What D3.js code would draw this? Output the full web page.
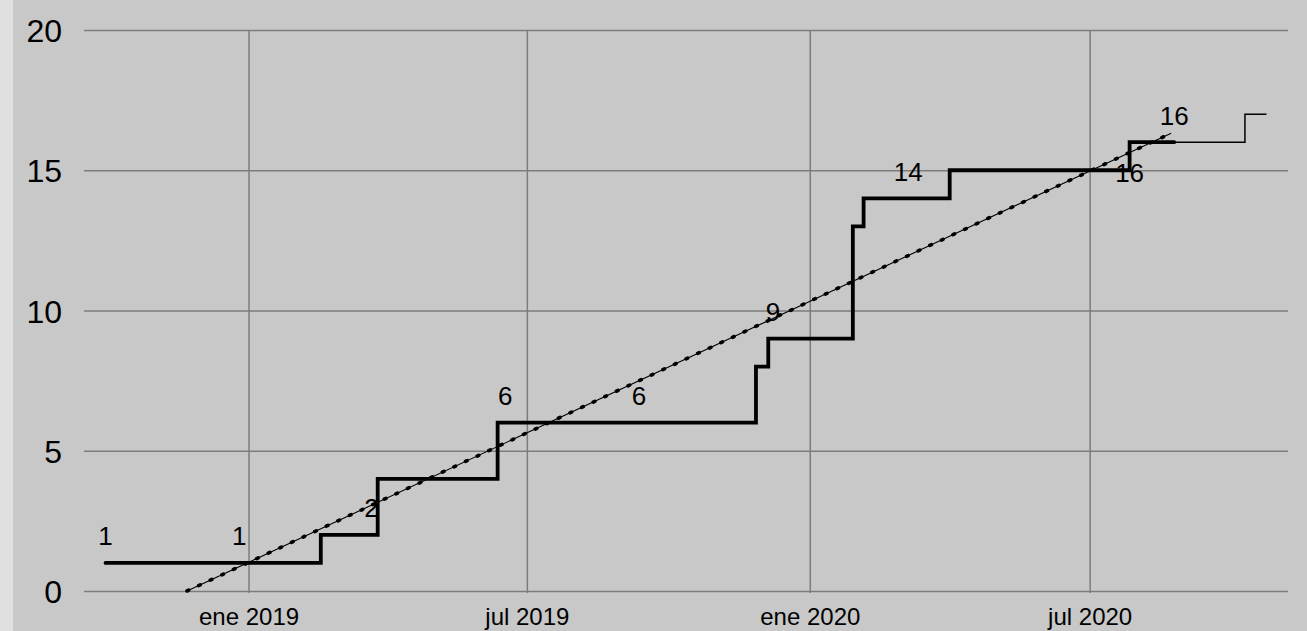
<!DOCTYPE html>
<html>
<head>
<meta charset="utf-8">
<script src="https://cdn.jsdelivr.net/npm/d3@7"></script>
<style>
  html, body { margin: 0; padding: 0; background: #c8c8c8; }
  svg { display: block; }
  text { font-family: "Liberation Sans", Arial, sans-serif; fill: #000; }
</style>
</head>
<body>
<script>
// ---- data ----
const xTickDates  = ["2019-01-01", "2019-07-01", "2020-01-01", "2020-07-01"];
const xTickLabels = ["ene 2019", "jul 2019", "ene 2020", "jul 2020"];
const yTicks      = [0, 5, 10, 15, 20];

// cumulative count (thick step line)
const stepDates  = ["2018-09-30", "2019-02-17", "2019-03-26", "2019-06-12", "2019-11-27",
                    "2019-12-05", "2020-01-29", "2020-02-05", "2020-04-01", "2020-07-27", "2020-08-25"];
const stepValues = [1, 2, 4, 6, 8, 9, 13, 14, 15, 16, 16];

// continuation (thin step line)
const extDates  = ["2020-08-25", "2020-10-10", "2020-10-24"];
const extValues = [16, 17, 17];

// linear trend (end points)
const trendDates  = ["2018-11-22", "2020-08-23"];
const trendValues = [0, 16.32];

// data labels
const labelDates  = ["2018-09-30", "2018-12-26", "2019-03-22", "2019-06-17", "2019-09-12",
                     "2019-12-08", "2020-03-05", "2020-07-27", "2020-08-25"];
const labelValues = [1, 1, 2, 6, 6, 9, 14, 15, 16];
const labelTexts  = ["1", "1", "2", "6", "6", "9", "14", "16", "16"];

const xDomain = ["2018-09-16", "2020-11-07"];
const yDomain = [0, 20];

// ---- drawing ----
(function () {
const W = 1307, H = 631;
const parse = d3.utcParse("%Y-%m-%d");
const mLeft = 84, mRight = 1288, mTop = 30, mBottom = 591;

const x = d3.scaleUtc().domain(xDomain.map(parse)).range([mLeft, mRight]);
const y = d3.scaleLinear().domain(yDomain).range([mBottom, mTop]);

const svg = d3.select("body").append("svg").attr("width", W).attr("height", H);
svg.append("rect").attr("width", W).attr("height", H).attr("fill", "#c8c8c8");
svg.append("rect").attr("width", 13).attr("height", H).attr("fill", "#e0e0e0");

const gridColor = "#7c7c7c";

// Y axis with gridlines
const yAxis = svg.append("g").attr("transform", `translate(${mLeft},0)`)
  .call(d3.axisLeft(y).tickValues(yTicks).tickSize(-(mRight - mLeft)).tickPadding(22).tickFormat(d3.format("d")));
yAxis.select(".domain").remove();
yAxis.selectAll(".tick line").attr("stroke", gridColor).attr("stroke-width", 1.5);
yAxis.selectAll(".tick text").attr("font-size", 32).attr("dy", "0.36em")
  .attr("font-family", '"Liberation Sans", Arial, sans-serif').attr("fill", "#000");

// X axis with gridlines
const xAxis = svg.append("g").attr("transform", `translate(0,${mBottom + 2})`)
  .call(d3.axisBottom(x).tickValues(xTickDates.map(parse)).tickSize(-(mBottom + 2 - mTop))
    .tickFormat((d, i) => xTickLabels[i]));
xAxis.select(".domain").remove();
xAxis.selectAll(".tick line").attr("stroke", gridColor).attr("stroke-width", 1.5);
xAxis.selectAll(".tick text").attr("font-size", 24).attr("y", 32).attr("dy", 0)
  .attr("font-family", '"Liberation Sans", Arial, sans-serif').attr("fill", "#000");

// step series
const stepData = stepDates.map((d, i) => ({ d: parse(d), v: stepValues[i] }));
const extData = extDates.map((d, i) => ({ d: parse(d), v: extValues[i] }));
const stepLine = d3.line().x(p => x(p.d)).y(p => y(p.v)).curve(d3.curveStepAfter);

svg.append("path").datum(extData).attr("d", stepLine)
  .attr("fill", "none").attr("stroke", "#000").attr("stroke-width", 1.5);

svg.append("path").datum(stepData).attr("d", stepLine)
  .attr("fill", "none").attr("stroke", "#000").attr("stroke-width", 3.8)
  .attr("stroke-linejoin", "miter").attr("stroke-linecap", "round");

// trend line
const trendData = trendDates.map((d, i) => ({ d: parse(d), v: trendValues[i] }));
const tLine = d3.line().x(p => x(p.d)).y(p => y(p.v));
svg.append("path").datum(trendData).attr("d", tLine)
  .attr("fill", "none").attr("stroke", "#000").attr("stroke-width", 1.1);
svg.append("path").datum(trendData).attr("d", tLine)
  .attr("fill", "none").attr("stroke", "#000").attr("stroke-width", 3.6)
  .attr("stroke-linecap", "round").attr("stroke-dasharray", "1.8 11");

// data labels
const centered = new Set([7]);
svg.append("g").selectAll("text")
  .data(labelTexts)
  .join("text")
  .attr("x", (t, i) => x(parse(labelDates[i])))
  .attr("y", (t, i) => centered.has(i) ? y(labelValues[i]) + 11.5 : y(labelValues[i]) - 17.5)
  .attr("text-anchor", "middle")
  .attr("font-size", 26)
  .text(t => t);
})();
</script>
</body>
</html>
